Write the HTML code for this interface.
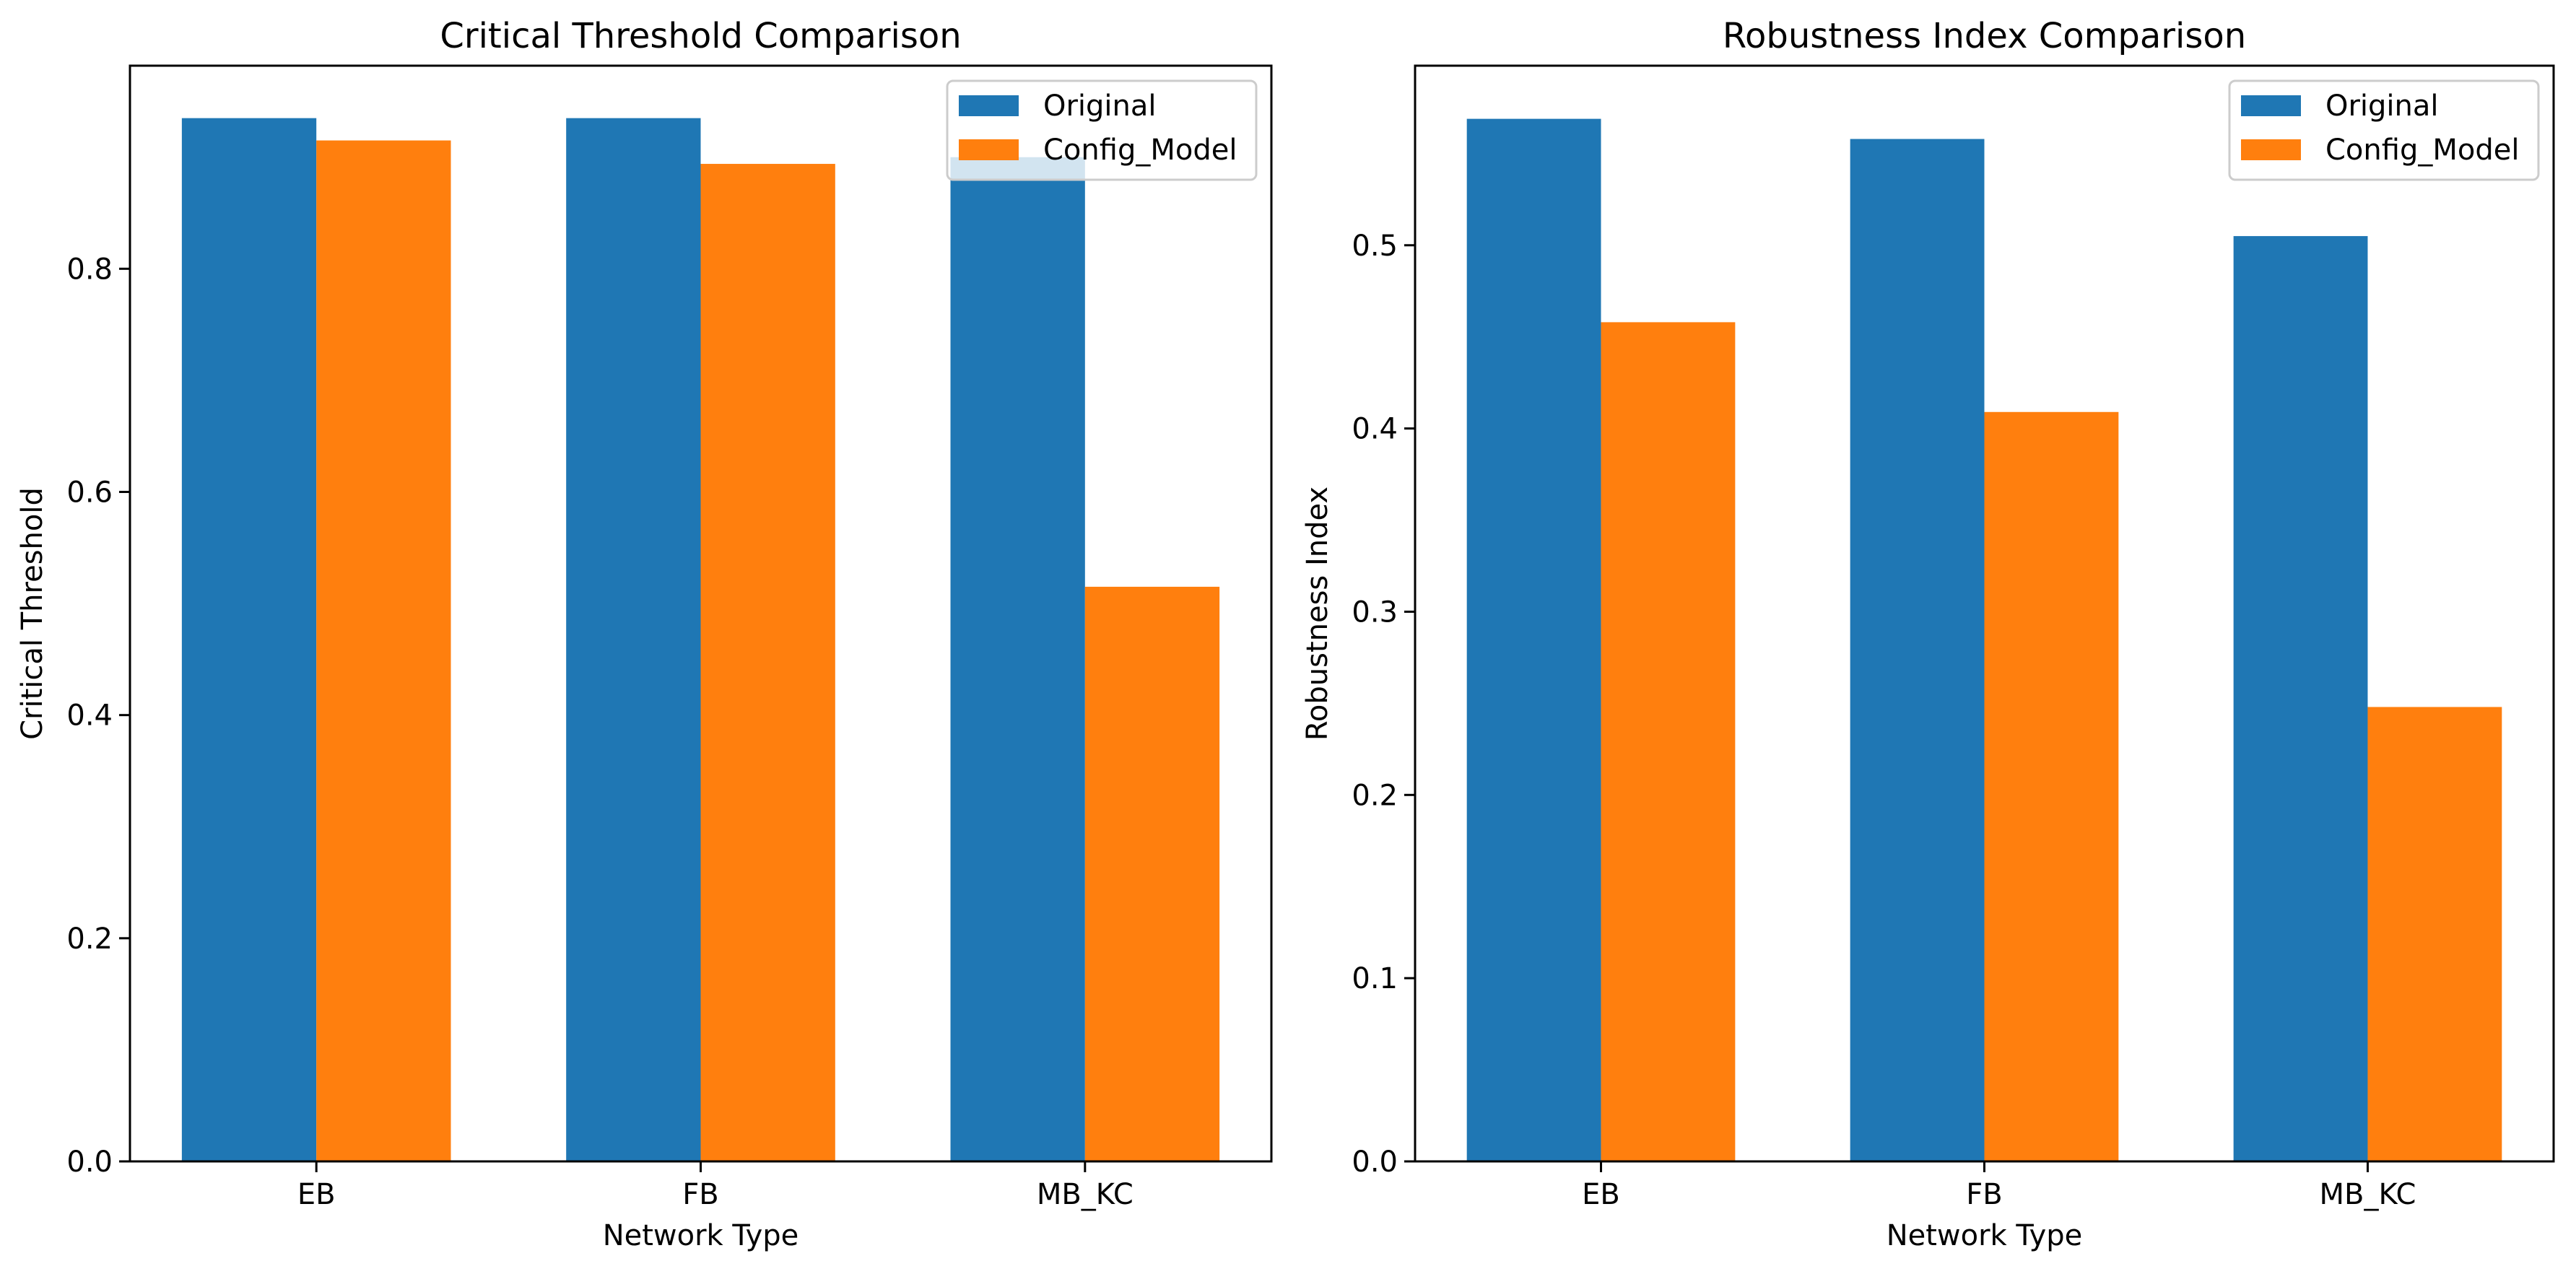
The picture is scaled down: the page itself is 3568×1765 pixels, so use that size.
<!DOCTYPE html>
<html><head><meta charset="utf-8">
<style>body{margin:0;background:#fff}svg{display:block;font-family:"DejaVu Sans","Liberation Sans",sans-serif}</style>
</head><body>
<svg id="fig" width="3568" height="1765" viewBox="0 0 3568 1765" xmlns="http://www.w3.org/2000/svg"></svg>
<script>
const categories = ["EB","FB","MB_KC"];
const seriesNames = ["Original","Config_Model"];
const ctOriginal = [0.935,0.935,0.900];
const ctConfig = [0.915,0.894,0.515];
const riOriginal = [0.569,0.558,0.505];
const riConfig = [0.458,0.409,0.248];
const ctTicks = [0.0,0.2,0.4,0.6,0.8];
const riTicks = [0.0,0.1,0.2,0.3,0.4,0.5];
const colors = ["#1f77b4","#ff7f0e"];
const NS="http://www.w3.org/2000/svg";
const svg=document.getElementById('fig');
function el(tag,attrs,parent){const e=document.createElementNS(NS,tag);for(const k in attrs)e.setAttribute(k,attrs[k]);(parent||svg).appendChild(e);return e;}
function panel(p){
  const g=el('g',{});
  
  
  const L=p.left,R=p.right,T=91,B=1609;
  const xmin=-0.485,xmax=2.485;
  const sx=v=>L+(v-xmin)/(xmax-xmin)*(R-L);
  const sy=v=>B-(v-0)/(p.ymax)*(B-T);
  const w=0.35;
  [p.a,p.b].forEach((arr,si)=>{
    arr.forEach((v,i)=>{
      const x0=sx(i-w+si*w), x1=sx(i+si*w);
      const r=el('rect',{x:x0,y:sy(v),width:x1-x0,height:B-sy(v),fill:colors[si]},g);
      
      
    });
  });
  const ax=el('rect',{x:L,y:T,width:R-L,height:B-T,fill:'none',stroke:'#000','stroke-width':3},g);
  
  
  p.ticks.forEach(t=>{
    const y=sy(t);
    el('line',{x1:L-15,x2:L,y1:y,y2:y,stroke:'#000','stroke-width':3},g);
    const tx=el('text',{x:L-24,y:y+14,'text-anchor':'end','font-size':40},g);
    tx.textContent=t.toFixed(1);
    
    
  });
  categories.forEach((c,i)=>{
    const x=sx(i);
    el('line',{x1:x,x2:x,y1:B,y2:B+15,stroke:'#000','stroke-width':3},g);
    const tx=el('text',{x:x,y:1668,'text-anchor':'middle','font-size':40},g);
    tx.textContent=c;
    
    
  });
  const t=el('text',{x:(L+R)/2,y:66,'text-anchor':'middle','font-size':48},g);
  t.textContent=p.title;
  
  
  const xl=el('text',{x:(L+R)/2,y:1725,'text-anchor':'middle','font-size':40},g);
  xl.textContent='Network Type';
  
  
  const yl=el('text',{x:0,y:0,'text-anchor':'middle','font-size':40,transform:`translate(${p.ylx},${(T+B)/2}) rotate(-90)`},g);
  yl.textContent=p.ylabel;
  
  
  const lg=el('g',{},g);
  
  
  const lx=R-449;
  el('rect',{x:lx,y:112,width:428,height:137,rx:8,fill:'#fff','fill-opacity':0.8,stroke:'#ccc','stroke-width':3},lg);
  seriesNames.forEach((n,si)=>{
    const y=132+si*61;
    el('rect',{x:lx+16,y:y,width:83,height:29,fill:colors[si]},lg);
    const tx=el('text',{x:lx+133,y:y+28,'font-size':40},lg);
    tx.textContent=n;
    
    
  });
}
panel({name:'critical-threshold-chart',left:180,right:1761,ymax:0.982,a:ctOriginal,b:ctConfig,ticks:ctTicks,title:'Critical Threshold Comparison',ylabel:'Critical Threshold',ylx:58});
panel({name:'robustness-index-chart',left:1960,right:3537,ymax:0.598,a:riOriginal,b:riConfig,ticks:riTicks,title:'Robustness Index Comparison',ylabel:'Robustness Index',ylx:1838});
</script>
</body></html>
